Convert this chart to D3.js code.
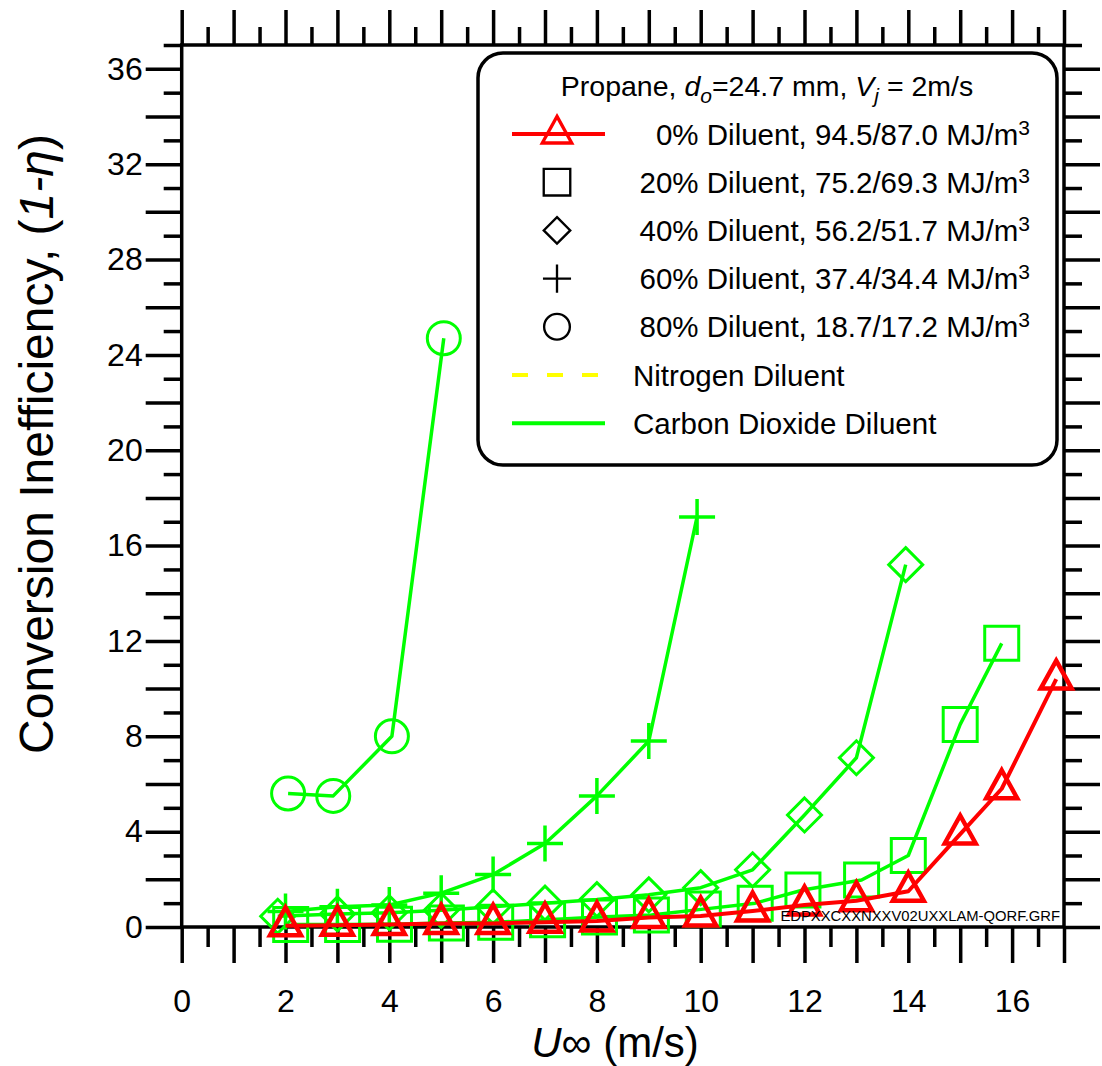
<!DOCTYPE html>
<html lang="en">
<head>
<meta charset="UTF-8">
<title>conversion inefficiency</title>
<script src="https://cdn.jsdelivr.net/npm/d3@7"></script>
<style>
    body{ margin:0; background:#fff; }
    svg{ font-family: "Liberation Sans", Arial, sans-serif; }
</style>
</head>
<body>
<svg id="fig" width="1102" height="1066"></svg>
<script>
    // series: [U (m/s), 1-eta]
    let dil0 = [[2,0.05],[3,0.07],[4,0.1],[5,0.15],[6,0.15],[7,0.2],[8,0.25],[9,0.4],[10,0.46],
                [11,0.67],[12,0.92],[13,1.1],[14,1.5],[15,3.9],[15.8,5.8],[16.85,10.4]]
    let dil20 = [[2.1,0.1],[3.1,0.1],[4.1,0.12],[5.1,0.17],[6.05,0.2],[7.05,0.3],[8.05,0.42],[9.05,0.5],
                 [10.05,0.75],[11.05,1.0],[11.97,1.55],[13.1,1.97],[14,3.0],[15,8.5],[15.8,11.9]]
    let dil40 = [[1.85,0.45],[3,0.55],[4,0.6],[5,0.7],[6,0.85],[7,1.0],[8,1.15],[9,1.35],[10,1.65],
                 [11,2.4],[12,4.7],[13,7.1],[13.95,15.2]]
    let dil60 = [[2,0.65],[3,0.85],[4,0.92],[5,1.42],[6,2.2],[7,3.5],[8,5.5],[9,7.8],[9.93,17.2]]
    let dil80 = [[2.05,5.6],[2.92,5.5],[4.05,8.0],[5.05,24.7]]

    let xLabels = [0,2,4,6,8,10,12,14,16]
    let yLabels = [0,4,8,12,16,20,24,28,32,36]
    let legendLabels = ["0% Diluent, 94.5/87.0 MJ/m", "20% Diluent, 75.2/69.3 MJ/m", "40% Diluent, 56.2/51.7 MJ/m",
                        "60% Diluent, 37.4/34.4 MJ/m", "80% Diluent, 18.7/17.2 MJ/m"]

    let GREEN = "#00ff00"
    let RED = "#ff0000"

    let svg = d3.select("#fig")

    let x_scale = d3.scaleLinear().domain([0, 17]).range([181.7, 1064])
    let y_scale = d3.scaleLinear().domain([0, 37]).range([927, 45])

    // frame ticks, all pointing outward
    function styleAxis(g){
        g.select(".domain").remove()
        g.selectAll(".tick line").attr("stroke", "#000").attr("stroke-width", 3.5)
        g.selectAll(".tick text").attr("fill", "#000").style("font-size", "32px")
            .style("font-family", "'Liberation Sans', Arial, sans-serif")
    }
    let majX = d3.range(0, 18, 1), minX = d3.range(0.5, 17, 1)
    let majY = d3.range(0, 38, 2), minY = d3.range(1, 38, 2)

    svg.append("g").attr("transform", "translate(0,927)")
        .call(d3.axisBottom(x_scale).tickValues(minX).tickSize(20).tickFormat("").tickSizeOuter(0)).call(styleAxis)
    svg.append("g").attr("transform", "translate(0,927)")
        .call(d3.axisBottom(x_scale).tickValues(majX).tickSize(36).tickPadding(26).tickSizeOuter(0)
            .tickFormat(d => xLabels.includes(d) ? d : "")).call(styleAxis)
    svg.append("g").attr("transform", "translate(0,45)")
        .call(d3.axisTop(x_scale).tickValues(minX).tickSize(18).tickFormat("").tickSizeOuter(0)).call(styleAxis)
    svg.append("g").attr("transform", "translate(0,45)")
        .call(d3.axisTop(x_scale).tickValues(majX).tickSize(35).tickFormat("").tickSizeOuter(0)).call(styleAxis)

    svg.append("g").attr("transform", "translate(181.7,0)")
        .call(d3.axisLeft(y_scale).tickValues(minY).tickSize(18).tickFormat("").tickSizeOuter(0)).call(styleAxis)
    svg.append("g").attr("transform", "translate(181.7,0)")
        .call(d3.axisLeft(y_scale).tickValues(majY).tickSize(36).tickPadding(3).tickSizeOuter(0)
            .tickFormat(d => yLabels.includes(d) ? d : "")).call(styleAxis)
    svg.append("g").attr("transform", "translate(1064,0)")
        .call(d3.axisRight(y_scale).tickValues(minY).tickSize(18).tickFormat("").tickSizeOuter(0)).call(styleAxis)
    svg.append("g").attr("transform", "translate(1064,0)")
        .call(d3.axisRight(y_scale).tickValues(majY).tickSize(36).tickFormat("").tickSizeOuter(0)).call(styleAxis)

    svg.append("rect")
        .attr("x", x_scale(0)).attr("y", y_scale(37))
        .attr("width", x_scale(17) - x_scale(0)).attr("height", y_scale(0) - y_scale(37))
        .attr("fill", "none").attr("stroke", "#000").attr("stroke-width", 3.5)

    // marker shapes centred on 0,0
    function marker(type){
        if (type === "circle") return d3.arc()({innerRadius: 0, outerRadius: 16.5, startAngle: 0, endAngle: 2 * Math.PI})
        if (type === "square") return "M-17,-17H17V17H-17Z"
        if (type === "diamond") return "M0,-17L17,0L0,17L-17,0Z"
        if (type === "plus") return "M-18,0H18M0,-18V18"
        if (type === "triangle") return "M0,-18.5L15.5,9.5L-15.5,9.5Z"
    }

    let line = d3.line().x(d => x_scale(d[0])).y(d => y_scale(d[1]))

    function drawSeries(data, type, color, lw, mw){
        svg.append("path").datum(data)
            .attr("d", line)
            .attr("fill", "none").attr("stroke", color).attr("stroke-width", lw)
            .attr("stroke-linejoin", "round")
        svg.append("g").selectAll("path")
            .data(data)
            .join("path")
            .attr("transform", d => `translate(${x_scale(d[0])},${y_scale(d[1])})`)
            .attr("d", marker(type))
            .attr("fill", "none").attr("stroke", color).attr("stroke-width", mw)
    }

    drawSeries(dil80, "circle", GREEN, 3.5, 3)
    drawSeries(dil60, "plus", GREEN, 3.5, 3.5)
    drawSeries(dil40, "diamond", GREEN, 3.5, 3)
    drawSeries(dil20, "square", GREEN, 3.5, 3)
    drawSeries(dil0, "triangle", RED, 4, 4.5)

    // file name stamp
    svg.append("text")
        .attr("x", 1060).attr("y", 921)
        .attr("text-anchor", "end")
        .style("font-size", "14.8px")
        .text("EDPXXCXXNXXV02UXXLAM-QORF.GRF")

    // legend
    let lg = svg.append("g")
    lg.append("rect")
        .attr("x", 478).attr("y", 53).attr("width", 579).attr("height", 412).attr("rx", 25)
        .attr("fill", "#fff").attr("stroke", "#000").attr("stroke-width", 3.5)

    let title = lg.append("text").attr("x", 767).attr("y", 96).attr("text-anchor", "middle").style("font-size", "28.5px")
    title.append("tspan").text("Propane, ")
    title.append("tspan").style("font-style", "italic").text("d")
    title.append("tspan").style("font-style", "italic").style("font-size", "21px").attr("dy", 7).text("o")
    title.append("tspan").attr("dy", -7).text("=24.7 mm, ")
    title.append("tspan").style("font-style", "italic").text("V")
    title.append("tspan").style("font-style", "italic").style("font-size", "21px").attr("dy", 7).text("j")
    title.append("tspan").attr("dy", -7).text(" = 2m/s")

    let rowY = d3.range(7).map(i => 134 + i * 48.2)
    let legendTypes = ["triangle", "square", "diamond", "plus", "circle"]

    lg.append("line").attr("x1", 512).attr("x2", 605).attr("y1", rowY[0]).attr("y2", rowY[0])
        .attr("stroke", RED).attr("stroke-width", 4)
    legendTypes.forEach((t, i) => {
        lg.append("path")
            .attr("d", marker(t))
            .attr("fill", "none")
            .attr("stroke", i === 0 ? RED : "#000")
            .attr("stroke-width", i === 0 ? 3.5 : 3)
            .attr("transform", `translate(557,${rowY[i]}) scale(${i === 0 ? 0.95 : 0.78})`)
    })
    legendLabels.forEach((s, i) => {
        let t = lg.append("text").attr("x", 1030).attr("y", rowY[i] + 10.5)
            .attr("text-anchor", "end").style("font-size", "29.5px")
        t.append("tspan").text(s)
        t.append("tspan").attr("dy", -10).style("font-size", "21px").text("3")
    })
    lg.append("line").attr("x1", 512).attr("x2", 605).attr("y1", rowY[5]).attr("y2", rowY[5])
        .attr("stroke", "#ffff00").attr("stroke-width", 4).attr("stroke-dasharray", "16,19")
    lg.append("line").attr("x1", 512).attr("x2", 605).attr("y1", rowY[6]).attr("y2", rowY[6])
        .attr("stroke", GREEN).attr("stroke-width", 4)
    lg.append("text").attr("x", 633).attr("y", rowY[5] + 10.5).style("font-size", "29.5px").text("Nitrogen Diluent")
    lg.append("text").attr("x", 633).attr("y", rowY[6] + 10.5).style("font-size", "29.5px").text("Carbon Dioxide Diluent")

    // axis titles
    let xt = svg.append("text").attr("x", 615).attr("y", 1057).attr("text-anchor", "middle").style("font-size", "42px")
    xt.append("tspan").style("font-style", "italic").text("U")
    xt.append("tspan").text("\u221E (m/s)")

    let yt = svg.append("text")
        .attr("transform", "translate(53,444) rotate(-90)")
        .attr("text-anchor", "middle").style("font-size", "48px")
    yt.append("tspan").text("Conversion Inefficiency, (")
    yt.append("tspan").style("font-style", "italic").text("1-\u03B7")
    yt.append("tspan").text(")")
</script>
</body>
</html>
